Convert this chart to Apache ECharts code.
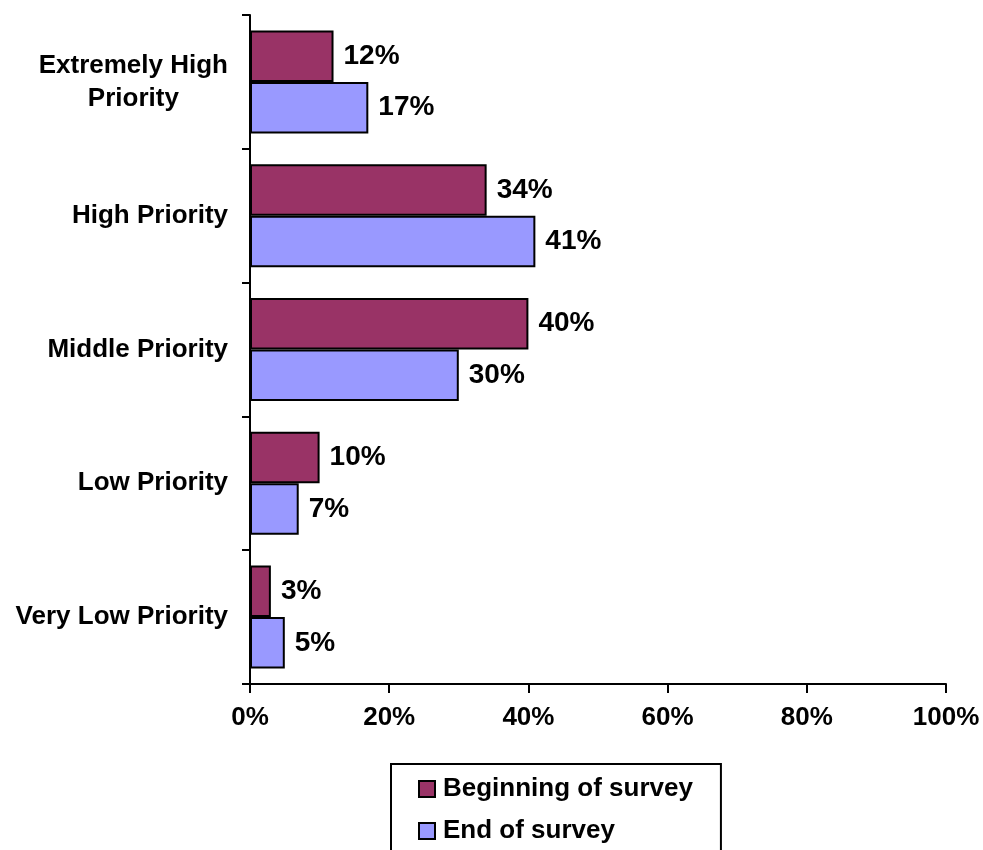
<!DOCTYPE html>
<html>
<head>
<meta charset="utf-8">
<script src="https://cdn.jsdelivr.net/npm/echarts@6/dist/echarts.min.js"></script>
<style>
  html, body { margin: 0; padding: 0; background: #fff; }
  #chart { width: 983px; height: 850px; }
</style>
</head>
<body>
<div id="chart"></div>
<script>
// Priority categories, top to bottom
const categories = [
  'Extremely High\nPriority',
  'High Priority',
  'Middle Priority',
  'Low Priority',
  'Very Low Priority'
];
// Share of responses (%) per category
const beginningValues = [12, 34, 40, 10, 3];
const endValues = [17, 41, 30, 7, 5];
const seriesNames = ['Beginning of survey', 'End of survey'];
const xTicks = [0, 20, 40, 60, 80, 100];

const FONT = '"Liberation Sans", Arial, Helvetica, sans-serif';
const chart = echarts.init(document.getElementById('chart'));

function barSeries(name, values, color) {
  return {
    name: name,
    type: 'bar',
    data: values,
    barGap: '0%',
    barCategoryGap: '23%',
    itemStyle: { color: color, borderColor: '#000', borderWidth: 2 },
    label: {
      show: true,
      position: 'right',
      distance: 10,
      formatter: '{c}%',
      color: '#000',
      fontFamily: FONT,
      fontWeight: 'bold',
      fontSize: 28
    },
    emphasis: { disabled: true },
    animation: false
  };
}

chart.setOption({
  backgroundColor: '#fff',
  animation: false,
  grid: { left: 250, right: 37, top: 15, bottom: 166, containLabel: false },
  xAxis: {
    type: 'value',
    min: xTicks[0],
    max: xTicks[xTicks.length - 1],
    interval: xTicks[1] - xTicks[0],
    axisLine: { show: true, lineStyle: { color: '#000', width: 2 } },
    axisTick: { show: true, length: 9, lineStyle: { color: '#000', width: 2 } },
    splitLine: { show: false },
    axisLabel: {
      formatter: '{value}%',
      margin: 21,
      color: '#000',
      fontFamily: FONT,
      fontWeight: 'bold',
      fontSize: 26
    }
  },
  yAxis: {
    type: 'category',
    inverse: true,
    data: categories,
    axisLine: { show: true, lineStyle: { color: '#000', width: 2 } },
    axisTick: { show: true, length: 8, lineStyle: { color: '#000', width: 2 } },
    axisLabel: {
      margin: 22,
      formatter: function (v) {
        return v.split('\n').map(function (s) { return '{c|' + s + '}'; }).join('\n');
      },
      rich: {
        c: {
          align: 'center',
          color: '#000',
          fontFamily: FONT,
          fontWeight: 'bold',
          fontSize: 26,
          lineHeight: 33
        }
      }
    }
  },
  legend: {
    orient: 'vertical',
    left: 391,
    top: 764,
    height: 200,
    padding: [12, 28, 30, 27],
    itemGap: 16,
    itemWidth: 16,
    itemHeight: 16,
    icon: 'rect',
    borderColor: '#000',
    borderWidth: 2,
    selectedMode: false,
    textStyle: {
      color: '#000',
      fontFamily: FONT,
      fontWeight: 'bold',
      fontSize: 26,
      padding: [0, 0, 0, 3]
    },
    data: seriesNames
  },
  series: [
    barSeries(seriesNames[0], beginningValues, '#993366'),
    barSeries(seriesNames[1], endValues, '#9999FF')
  ]
});
</script>
</body>
</html>
